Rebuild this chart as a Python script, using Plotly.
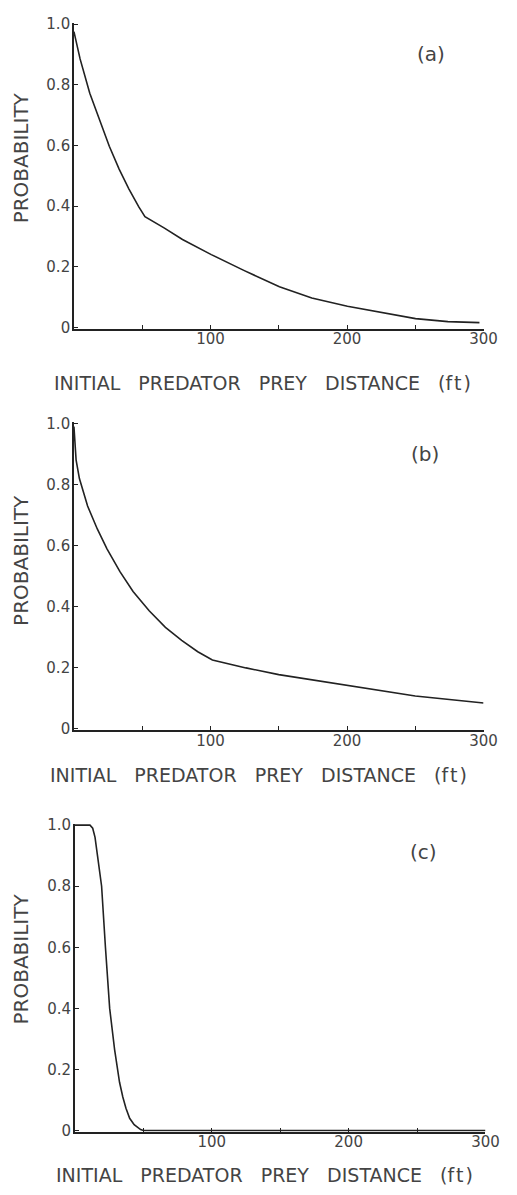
import plotly.graph_objects as go

# ---- data ----
a_x = [0, 4.5, 11.6, 18.8, 25.9, 33.1, 40.2, 47.4, 52, 66, 79.5, 100.6, 124.4, 150.5, 174.2, 200.3, 226.4, 250.2, 273.9, 297]
a_y = [0.975, 0.885, 0.772, 0.683, 0.597, 0.522, 0.457, 0.398, 0.365, 0.328, 0.29, 0.24, 0.188, 0.134, 0.097, 0.07, 0.048, 0.029, 0.019, 0.016]

b_x = [0, 1.6, 4, 10, 17.1, 24.2, 33.7, 43.3, 55.1, 67, 78.9, 90.7, 101.4, 126, 150, 200, 250, 300]
b_y = [0.99, 0.88, 0.82, 0.73, 0.655, 0.59, 0.515, 0.45, 0.387, 0.333, 0.29, 0.253, 0.226, 0.20, 0.178, 0.144, 0.108, 0.085]

c_x = [0, 11, 13, 14.7, 16.5, 18.3, 19.5, 22.3, 25.4, 29, 30.8, 32.6, 35, 37.3, 40, 43.3, 48, 50, 300]
c_y = [1.0, 1.0, 0.99, 0.96, 0.90, 0.83, 0.80, 0.60, 0.40, 0.265, 0.21, 0.158, 0.11, 0.073, 0.04, 0.019, 0.003, 0, 0]

x_tickvals = [50, 100, 150, 200, 250, 300]
x_ticktext = ["", "100", "", "200", "", "300"]
y_tickvals = [0, 0.2, 0.4, 0.6, 0.8, 1.0]
y_ticktext = ["0", "0.2", "0.4", "0.6", "0.8", "1.0"]

panel_labels = ["(a)", "(b)", "(c)"]
y_title = "PROBABILITY"
SP = "\u00a0\u00a0\u00a0"
x_title = SP.join(["INITIAL", "PREDATOR", "PREY", "DISTANCE", "(f\u200at\u200a)"])

# ---- layout helpers ----
W, H = 517, 1195
FONT = "DejaVu Sans"
TXT = "#444444"
LINE = "#222222"

def px_x(p):
    return p / W

def px_y(p):
    return 1 - p / H

# pixel geometry of each panel: (x0, x1, ytop, ybottom)
panels = [
    (76, 497, 15, 325),
    (76, 497, 420, 732),
    (77, 499, 827, 1139),
]
ytitle_pos = [(22, 152), (21, 560), (22, 964)]
xtitle_pos = [(270, 380), (266, 777), (272, 1183)]
label_pos = [(443, 47), (437, 452), (435, 855)]

series = [(a_x, a_y), (b_x, b_y), (c_x, c_y)]

fig = go.Figure()
layout = dict(
    width=W, height=H,
    margin=dict(l=0, r=0, t=0, b=0),
    paper_bgcolor="white", plot_bgcolor="white",
    showlegend=False,
    font=dict(family=FONT, color=TXT),
)
annotations = []

for i, ((xs, ys), (x0, x1, yt, yb)) in enumerate(zip(series, panels)):
    n = "" if i == 0 else str(i + 1)
    fig.add_trace(go.Scatter(
        x=xs, y=ys, mode="lines",
        line=dict(color=LINE, width=1.6),
        xaxis="x" + n, yaxis="y" + n, hoverinfo="skip",
    ))
    layout["xaxis" + n] = dict(
        domain=[px_x(x0), px_x(x1)], anchor="y" + n,
        range=[0, 300], showgrid=False, zeroline=False,
        showline=True, linecolor=LINE, linewidth=1.5,
        ticks="inside", ticklen=4, tickwidth=1.2, tickcolor=LINE,
        tickvals=x_tickvals, ticktext=x_ticktext,
        tickfont=dict(family=FONT, size=15, color=TXT),
        ticklabelstandoff=-4,
    )
    layout["yaxis" + n] = dict(
        domain=[px_y(yb), px_y(yt)], anchor="x" + n,
        range=[-0.004, 1.004], showgrid=False, zeroline=False,
        showline=True, linecolor=LINE, linewidth=1.5,
        ticks="inside", ticklen=4, tickwidth=1.2, tickcolor=LINE,
        tickvals=y_tickvals, ticktext=y_ticktext,
        tickfont=dict(family=FONT, size=15, color=TXT),
        ticklabelstandoff=-1,
    )
    tx, ty = ytitle_pos[i]
    annotations.append(dict(
        text=y_title, x=px_x(tx), y=px_y(ty), xref="paper", yref="paper",
        showarrow=False, textangle=-90, xanchor="center", yanchor="middle",
        font=dict(family=FONT, size=20, color=TXT),
    ))
    tx, ty = xtitle_pos[i]
    annotations.append(dict(
        text=x_title, x=px_x(tx), y=px_y(ty), xref="paper", yref="paper",
        showarrow=False, xanchor="center", yanchor="middle",
        font=dict(family=FONT, size=19, color=TXT),
    ))
    tx, ty = label_pos[i]
    annotations.append(dict(
        text=panel_labels[i], x=px_x(tx), y=px_y(ty), xref="paper", yref="paper",
        showarrow=False, xanchor="center", yanchor="middle",
        font=dict(family=FONT, size=20, color=TXT),
    ))

layout["annotations"] = annotations
fig.update_layout(**layout)
fig.write_html("out.html")
